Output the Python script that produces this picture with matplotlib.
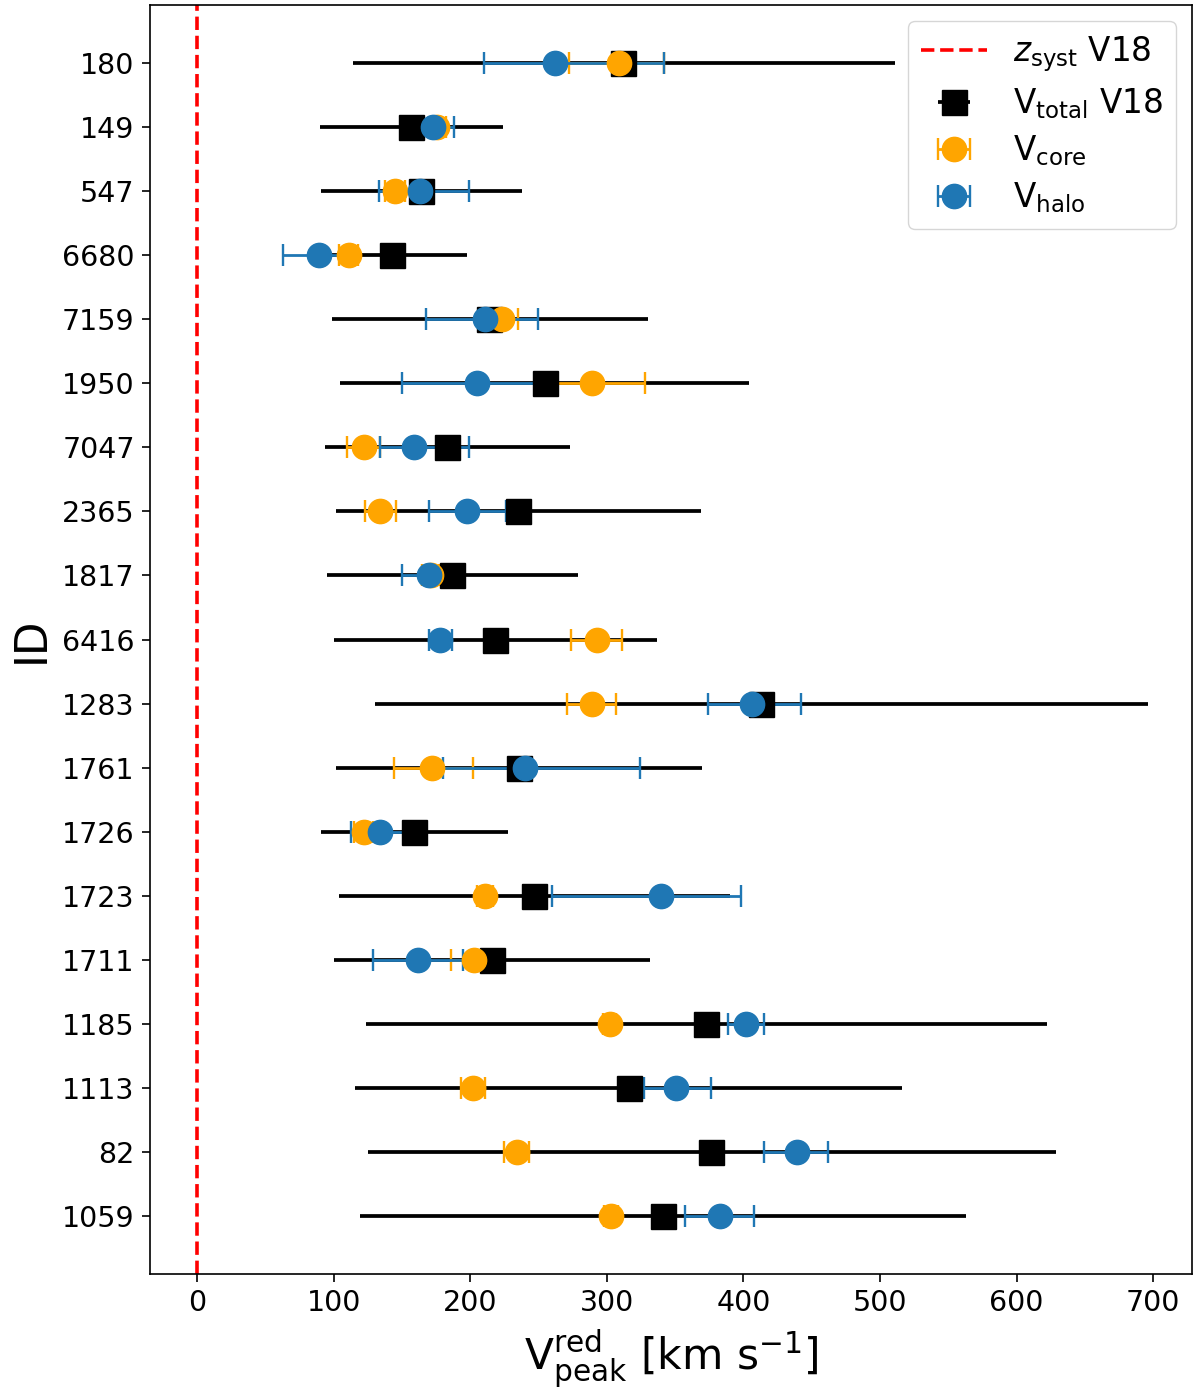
import matplotlib
matplotlib.use("Agg")
import matplotlib.pyplot as plt
import numpy as np

# source IDs, top to bottom
ids = ['180', '149', '547', '6680', '7159', '1950', '7047', '2365', '1817', '6416',
       '1283', '1761', '1726', '1723', '1711', '1185', '1113', '82', '1059']

# V_total (V18): value, lower err, upper err
v_total = [312, 157, 164, 143, 214, 255, 183, 235, 187, 218,
           413, 236, 159, 247, 216, 373, 316, 376, 341]
v_total_lo = [198, 67, 73, 55, 115, 150, 89, 133, 92, 118,
              283, 134, 68, 143, 116, 249, 200, 251, 222]
v_total_hi = [199, 67, 74, 55, 116, 149, 90, 134, 92, 119,
              283, 134, 69, 143, 116, 249, 200, 253, 222]

# V_core
v_core = [309, 176, 145, 111, 223, 289, 122, 134, 171, 293,
          289, 172, 122, 211, 203, 302, 202, 234, 303]
v_core_lo = [37, 6, 7, 7, 12, 39, 12, 11, 6, 19,
             18, 28, 7, 6, 17, 5, 9, 9, 5]
v_core_hi = [33, 6, 7, 7, 12, 39, 12, 12, 6, 18,
             18, 30, 7, 6, 17, 5, 9, 9, 5]

# V_halo
v_halo = [262, 173, 163, 89, 211, 205, 159, 198, 170, 178,
          406, 240, 134, 340, 162, 402, 351, 439, 383]
v_halo_lo = [52, 15, 30, 26, 43, 55, 25, 28, 20, 8.5,
             32, 60, 21, 80, 33, 13, 24, 24, 26]
v_halo_hi = [80, 15, 36, 26, 39, 55, 40, 28, 20, 8.5,
             36, 84, 21, 58, 33, 13, 25, 23, 25]

fig = plt.figure(figsize=(12, 13.91), dpi=100)
ax = fig.add_axes([0.125, 0.0841, 0.8683, 0.9123])

y = np.arange(len(ids))

ax.axvline(0, color='red', ls='--', lw=2.6, label=r'$z_{\rm syst}$ V18')

ax.errorbar(v_total, y, xerr=[v_total_lo, v_total_hi], fmt='s', color='black',
            ms=18, elinewidth=2.7, capsize=0, label=r'V$_{\rm total}$ V18')
ax.errorbar(v_core, y, xerr=[v_core_lo, v_core_hi], fmt='o', color='orange',
            ms=17.5, elinewidth=2.0, capsize=8, capthick=1.7, label=r'V$_{\rm core}$')
ax.errorbar(v_halo, y, xerr=[v_halo_lo, v_halo_hi], fmt='o', color='#1f77b4',
            ms=17.5, elinewidth=2.0, capsize=8, capthick=1.7, label=r'V$_{\rm halo}$')

ax.set_yticks(y)
ax.set_yticklabels(ids)
ax.set_ylim(len(ids) - 1 + 0.9, -0.9)
ax.set_xlim(-34.4, 728.4)
ax.set_xticks(np.arange(0, 701, 100))

ax.tick_params(axis='both', labelsize=20.5, length=5.5, width=1.2, pad=5.5)
for sp in ax.spines.values():
    sp.set_linewidth(1.2)

ax.set_xlabel(r'V$^{\rm red}_{\rm peak}$ [km s$^{-1}$]', fontsize=30.5, labelpad=7)
ax.set_ylabel('ID', fontsize=31.5, labelpad=6.5)

ax.legend(loc='upper right', fontsize=23.5, labelspacing=0.38)

fig.savefig('out.png', dpi=100)
